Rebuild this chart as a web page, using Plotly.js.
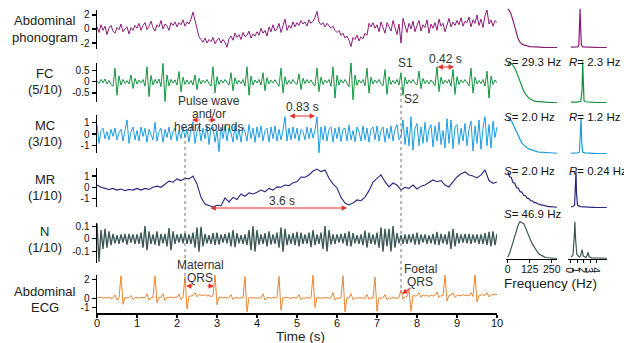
<!DOCTYPE html>
<html><head><meta charset="utf-8">
<script src="https://cdn.plot.ly/plotly-3.0.1.min.js"></script>
<style>html,body{margin:0;padding:0;background:#fff}#chart{width:624px;height:343px}</style>
</head><body><div id="chart"></div>
<script>
// ---------- time-domain data (sampled every 0.05 s, MR every 0.1 s) ----------
const phonogram = [
0.3,-0.5,0.6,-0.2,0.4,-0.8,0.1,0.5,-0.3,-0.6,0.2,-0.1,0.7,-0.4,0.0,0.3,-0.7,0.2,-0.2,0.5,
0.1,0.8,-0.2,0.5,0.9,-0.1,0.4,1.1,0.2,-0.3,0.6,0.3,1.2,0.0,0.7,0.4,-0.2,0.9,0.5,1.0,
0.3,0.9,0.6,1.3,0.4,1.0,0.7,1.4,2.4,1.2,-0.3,-1.1,-1.5,-1.9,-1.3,-2.0,-1.5,-1.8,-1.2,-2.1,
-1.6,-1.3,-2.0,-1.5,-1.9,-2.6,-1.4,-1.0,-1.6,-0.6,-1.2,-0.8,-1.5,-0.5,-1.1,-0.9,-0.3,-1.3,-0.7,-1.0,
-0.4,-0.9,0.1,-0.6,-0.2,-1.0,0.3,-0.4,0.6,-0.3,0.0,0.8,-0.5,0.4,1.4,-0.2,0.5,0.1,1.0,0.3,
0.9,0.5,1.2,0.7,1.0,0.4,1.3,0.8,1.1,1.6,2.5,1.0,0.6,0.9,0.3,0.8,0.5,0.1,0.4,-0.2,
-0.5,-0.2,-0.9,-0.6,-1.3,-1.0,-1.6,-2.5,-1.2,-1.5,-0.9,-1.7,-1.1,-1.4,-0.6,-0.9,0.8,0.3,0.9,0.1,
0.6,-0.4,1.0,0.2,-0.6,0.9,0.4,-0.3,1.2,0.1,-0.8,0.7,-2.0,1.5,0.3,-0.5,0.8,0.0,1.1,-0.4,
0.5,1.2,-0.3,0.6,0.2,1.3,-0.6,0.7,0.1,0.9,-0.2,1.4,0.4,0.8,-0.4,0.6,1.5,0.3,1.0,0.5,
1.2,0.6,1.6,0.4,1.1,0.9,1.7,0.3,1.3,0.8,2.0,0.5,1.4,0.2,1.9,2.7,0.7,1.3,0.4,1.2,0.9];

const fcSignal = [
0.05,-0.08,0.1,-0.05,0.12,-0.1,0.06,-0.12,-0.2,0.6,-0.6,0.25,-0.15,0.1,-0.08,0.05,-0.1,0.3,-0.3,0.15,
-0.1,0.08,-0.05,0.1,-0.2,0.66,-0.66,0.28,-0.15,0.1,-0.07,0.12,-0.22,0.81,-0.88,0.3,-0.18,0.1,-0.06,0.08,
-0.15,0.45,-0.45,0.2,-0.12,0.08,-0.1,0.06,-0.15,0.3,-0.35,0.15,-0.1,0.07,-0.05,0.1,-0.08,-0.2,0.66,-0.5,
0.22,-0.12,0.08,-0.06,0.1,-0.05,-0.15,0.4,-0.4,0.18,-0.1,0.06,-0.08,0.1,-0.2,0.66,-0.6,0.25,-0.14,0.08,
-0.06,0.1,-0.15,0.4,-0.4,0.18,-0.1,0.07,-0.05,0.09,-0.08,-0.2,0.6,-0.5,0.22,-0.12,0.06,-0.09,0.1,-0.05,
-0.12,0.35,-0.35,0.15,-0.08,0.1,-0.06,0.08,-0.1,-0.18,0.6,-0.44,0.2,-0.12,0.07,-0.05,0.1,-0.2,0.66,-0.73,
0.28,-0.15,0.09,-0.06,0.1,-0.08,-0.22,0.88,-0.8,0.3,-0.16,0.08,-0.06,0.1,-0.18,0.6,-0.5,0.2,-0.1,0.07,
-0.05,0.1,-0.08,-0.18,0.54,-0.56,0.22,-0.12,0.06,-0.08,0.1,-0.15,0.4,-0.6,0.2,-0.1,0.08,-0.06,0.1,-0.07,
-0.15,0.47,-0.3,0.15,-0.08,0.06,-0.1,0.08,-0.05,-0.18,0.66,-0.44,0.2,-0.1,0.07,-0.06,0.1,-0.2,0.54,-0.56,
0.22,-0.12,0.08,-0.05,0.1,-0.07,-0.18,0.6,-0.5,0.2,-0.1,0.06,-0.08,0.1,-0.2,0.47,-0.73,0.25,-0.12,0.08,-0.05];

const mcSignal = [
0.8,-0.8,0.3,0.5,-0.4,0.2,-0.5,0.4,-0.2,0.5,-0.5,0.1,0.4,-0.6,0.3,1.2,-0.8,0.2,0.6,-0.5,
0.3,-0.6,0.6,-0.2,0.5,-0.7,0.4,0.0,-0.5,1.0,-0.6,0.2,0.5,-0.7,0.4,-0.3,0.6,-0.5,0.2,0.5,
-0.6,0.3,-0.4,0.6,-0.3,0.4,-0.7,0.5,1.05,-0.8,0.2,0.7,-0.6,0.5,-0.4,0.7,-0.9,0.4,0.6,-0.7,
0.3,-1.5,0.6,-0.4,0.7,-0.6,0.5,0.1,-0.7,0.7,-0.5,0.4,-0.7,0.6,0.2,-0.6,0.8,-0.4,0.5,-0.7,
0.6,-0.3,0.7,-0.6,0.3,0.5,-0.7,0.6,-0.4,0.7,-0.6,0.4,-0.5,0.3,1.48,-0.6,0.5,-0.5,0.6,-0.4,
0.5,-0.6,0.4,0.2,-0.5,0.6,-0.4,0.5,-0.35,0.3,1.48,-1.6,0.6,-0.5,0.7,-0.6,0.4,0.6,-0.7,0.5,
-0.4,0.6,-0.65,0.4,0.5,-0.6,0.77,-0.5,0.3,-0.65,0.6,0.2,-0.6,0.7,-0.5,0.5,-0.7,0.4,0.6,-0.5,
0.7,-0.6,0.3,0.6,-0.7,0.5,-0.4,0.7,-0.6,0.4,0.8,-0.5,-0.2,1.2,-0.9,0.6,-1.0,1.48,-1.37,0.5,
0.9,-1.0,0.6,-0.8,1.0,-0.7,0.4,0.8,-1.1,0.7,-0.6,1.0,-0.9,0.3,-1.2,1.3,-0.8,1.2,-1.25,0.6,
0.8,-0.9,0.5,-0.6,0.9,-1.0,0.4,1.1,-1.45,0.7,-0.8,1.2,-1.3,0.5,1.48,-1.0,0.8,-1.2,1.1,-0.3,0.6];

const mrSignal = [
0.2,0.0,-0.1,-0.2,-0.1,-0.25,-0.15,-0.3,-0.2,-0.25,
-0.1,-0.25,-0.1,-0.2,0.0,0.1,0.0,0.3,0.55,0.45,
0.75,0.6,0.8,0.75,1.0,0.3,-0.9,-1.5,-1.6,-1.76,
-1.6,-1.65,-0.95,-1.3,-0.9,-1.1,-0.6,-0.8,-0.5,-0.6,
-0.45,-0.25,-0.4,-0.1,-0.25,0.03,0.0,0.2,0.15,0.4,
0.5,0.92,0.9,1.1,1.45,1.63,1.4,1.55,0.8,0.3,
-0.06,-0.9,-1.4,-1.58,-1.4,-1.13,-1.2,-0.87,-0.3,0.47,
0.8,1.1,0.5,0.03,0.38,0.2,-0.24,0.0,-0.1,0.2,
-0.15,0.1,0.2,0.45,0.65,0.5,0.6,0.2,0.03,0.5,
0.92,1.2,1.37,1.1,1.0,0.83,1.1,1.55,0.6,0.35,0.47];

const noiseSignal = [
0.12,-0.18,0.07,-0.08,0.08,-0.07,0.06,-0.05,0.04,-0.035,0.03,-0.04,0.035,-0.03,0.04,-0.045,0.04,-0.03,0.035,-0.04,
0.035,-0.04,0.05,-0.07,0.1,-0.09,0.06,-0.04,0.035,-0.045,0.06,-0.055,0.04,-0.035,0.04,-0.06,0.085,-0.09,0.06,-0.04,
0.035,-0.03,0.04,-0.035,0.045,-0.04,0.035,-0.04,0.05,-0.07,0.09,-0.1,0.095,-0.06,0.04,-0.035,0.03,-0.04,0.045,-0.05,
0.05,-0.045,0.035,-0.03,0.04,-0.035,0.05,-0.06,0.07,-0.065,0.045,-0.035,0.03,-0.04,0.035,-0.05,0.07,-0.09,0.1,-0.1,
0.07,-0.045,0.035,-0.04,0.045,-0.06,0.06,-0.045,0.035,-0.04,0.05,-0.07,0.09,-0.1,0.08,-0.05,0.035,-0.04,0.045,-0.05,
0.055,-0.06,0.05,-0.04,0.035,-0.04,0.05,-0.065,0.07,-0.05,0.035,-0.04,0.05,-0.08,0.1,-0.1,0.07,-0.045,0.035,-0.04,
0.035,-0.03,0.04,-0.035,0.045,-0.055,0.06,-0.06,0.045,-0.035,0.03,-0.04,0.035,-0.05,0.065,-0.07,0.05,-0.04,0.035,-0.045,
0.05,-0.07,0.09,-0.1,0.08,-0.06,0.08,-0.1,0.1,-0.07,0.045,-0.035,0.03,-0.04,0.035,-0.04,0.035,-0.03,0.04,-0.045,
0.05,-0.045,0.035,-0.03,0.035,-0.04,0.03,-0.035,0.04,-0.045,0.055,-0.05,0.04,-0.035,0.035,-0.045,0.06,-0.08,0.08,-0.06,
0.045,-0.035,0.035,-0.03,0.04,-0.035,0.04,-0.04,0.035,-0.03,0.035,-0.04,0.035,-0.04,0.045,-0.05,0.055,-0.06,0.06,-0.05,0.04];

const ecgSignal = [
0.1,0.05,0.12,0.0,0.08,0.03,0.1,-0.02,0.06,0.35,-0.2,0.05,2.45,-0.65,0.1,0.02,0.08,0.3,-0.15,0.05,
0.08,0.0,0.1,0.04,0.06,0.5,-0.2,0.05,0.1,2.45,-0.5,0.08,0.12,0.5,-0.25,0.1,0.05,0.15,0.08,0.12,
0.1,0.45,-0.15,0.1,2.35,-1.16,0.2,0.25,0.3,0.6,0.15,0.4,0.35,0.3,0.4,0.25,0.3,0.2,0.25,2.6,
-0.7,0.15,0.1,0.05,0.12,0.02,0.08,0.4,-0.15,0.06,0.1,0.0,0.08,0.05,2.35,-1.5,0.1,0.03,0.08,0.0,
0.06,0.02,0.1,0.5,-0.2,0.05,0.1,0.0,0.07,0.03,0.1,2.4,-1.3,0.08,0.02,0.1,0.05,0.0,0.08,0.04,
0.05,0.4,-0.15,0.05,0.0,0.08,0.02,0.06,2.5,-1.0,0.1,0.03,0.0,0.06,0.02,0.08,0.0,0.05,0.6,-0.2,
0.05,0.0,0.06,2.45,-1.5,0.05,0.02,0.5,-0.15,0.05,0.0,0.07,0.02,0.05,0.0,0.4,-0.1,0.05,0.02,2.3,
-1.4,0.05,0.0,0.06,0.4,-0.15,0.05,0.0,0.08,0.03,0.0,0.1,0.9,-0.1,0.15,0.2,0.9,-1.4,0.3,0.25,
0.3,0.6,0.1,0.35,0.25,0.3,0.2,0.35,0.25,0.3,0.7,0.05,0.3,0.25,2.5,-0.3,0.3,0.35,0.6,0.1,
0.3,0.35,0.25,0.4,0.3,0.35,0.25,0.6,0.2,2.6,-0.4,0.3,0.35,0.4,0.3,0.6,0.15,0.35,0.4,0.45,0.4];

// ---------- spectra (normalised power) ----------
const specFreq = [0,10,20,30,40,50,60,70,80,90,100,110,120,130,140,150,160,170,180,190,200,210,220,230,240,250,260,270,280];
const specPhono = [1.0,0.95,0.85,0.7,0.55,0.35,0.22,0.15,0.1,0.08,0.06,0.05,0.04,0.035,0.03,0.03,0.025,0.02,0.02,0.02,0.015,0.015,0.01,0.01,0.01,0.01,0.01,0.01,0.01];
const specFC = [0.9,1.0,0.97,0.92,0.85,0.75,0.63,0.52,0.4,0.3,0.22,0.16,0.12,0.09,0.06,0.05,0.04,0.035,0.03,0.03,0.02,0.02,0.02,0.02,0.015,0.01,0.01,0.01,0.01];
const specMC = [1.0,0.97,0.92,0.82,0.72,0.6,0.48,0.38,0.3,0.25,0.2,0.17,0.14,0.12,0.1,0.085,0.07,0.06,0.05,0.045,0.04,0.035,0.03,0.03,0.025,0.02,0.02,0.02,0.02];
const specMR = [1.0,0.86,0.84,0.7,0.68,0.56,0.55,0.45,0.44,0.35,0.34,0.27,0.26,0.2,0.2,0.15,0.15,0.11,0.11,0.08,0.08,0.06,0.06,0.04,0.04,0.03,0.03,0.02,0.02];
const specN = [0.05,0.15,0.3,0.45,0.6,0.78,0.92,1.0,0.98,0.95,0.85,0.72,0.6,0.5,0.4,0.32,0.24,0.18,0.13,0.1,0.07,0.05,0.04,0.03,0.02,0.02,0.02,0.02,0.02];

const rateFreqPhono = [0,0.5,1.0,1.2,1.3,1.4,1.5,1.6,1.8,2.5,3.5,4.5,5.5];
const ratePhono     = [0.02,0.02,0.03,0.06,0.4,1.0,0.45,0.08,0.03,0.02,0.015,0.01,0.01];
const rateFreqFC = [0,0.5,1.0,1.5,1.7,1.8,1.9,2.0,2.2,3.0,4.0,5.5];
const rateFC     = [0.02,0.02,0.02,0.04,0.3,1.0,0.4,0.06,0.03,0.02,0.01,0.01];
const rateFreqMC = [0,0.5,1.0,1.3,1.45,1.55,1.65,1.8,2.2,3.0,4.0,5.5];
const rateMC     = [0.02,0.02,0.03,0.05,0.45,1.0,0.35,0.05,0.03,0.02,0.01,0.01];
const rateFreqMR = [0,0.3,0.55,0.7,0.77,0.85,1.0,1.4,2.0,3.0,4.0,5.5];
const rateMR     = [0.03,0.04,0.08,0.5,1.0,0.4,0.08,0.04,0.03,0.02,0.01,0.01];
const rateFreqN = [0,0.3,0.5,0.6,0.7,0.9,1.3,1.5,1.7,1.9,2.3,2.5,2.6,2.8,3.2,4.0,5.5];
const rateN     = [0.05,0.1,0.6,1.0,0.55,0.12,0.05,0.1,0.25,0.08,0.04,0.1,0.18,0.06,0.03,0.02,0.02];

const rowLabels = [['Abdominal','phonogram'],['FC','(5/10)'],['MC','(3/10)'],['MR','(1/10)'],['N','(1/10)'],['Abdominal','ECG']];
const sLabels = ['', 'S= 29.3 Hz', 'S= 2.0 Hz', 'S= 2.0 Hz', 'S= 46.9 Hz'];
const rLabels = ['', 'R= 2.3 Hz', 'R= 1.2 Hz', 'R= 0.24 Hz', ''];

// ---------- layout helpers ----------
const W = 624, H = 343;
const fx = p => p / W;
const fy = p => 1 - p / H;
const FONT = 'Liberation Sans, Arial, Helvetica, sans-serif';
const RED = '#e2312b';

const timeRows = [
  {v: phonogram,   step: 0.05, color: '#8b1b7a', range: [-2.85, 2.7],   tv: [-2, 0, 2],        tt: ['-2','0','2'],        top: 10,  bot: 49,  ly: [21, 38]},
  {v: fcSignal,    step: 0.05, color: '#14933f', range: [-0.9, 0.83],   tv: [-0.5, 0, 0.5],    tt: ['-0.5','0','0.5'],    top: 63,  bot: 102, ly: [74, 90]},
  {v: mcSignal,    step: 0.05, color: '#1e9de0', range: [-1.62, 1.62],  tv: [-1, 0, 1],        tt: ['-1','0','1'],        top: 115, bot: 153, ly: [126, 141]},
  {v: mrSignal,    step: 0.1,  color: '#272780', range: [-1.76, 1.72],  tv: [-1, 0, 1],        tt: ['-1','0','1'],        top: 168, bot: 207, ly: [180, 195]},
  {v: noiseSignal, step: 0.05, color: '#3d5957', range: [-0.19, 0.125], tv: [-0.1, 0, 0.1],    tt: ['-0.1','0','0.1'],    top: 223, bot: 263, ly: [232, 247]},
  {v: ecgSignal,   step: 0.05, color: '#ee8530', range: [-1.6, 2.53],   tv: [-1, 0, 2],        tt: ['-1','0','2'],        top: 275, bot: 313, ly: [291, 307]}
];
const lineWidths = [1, 1, 1, 1.1, 1.4, 1];
const specRows = [
  {s: specPhono, rf: rateFreqPhono, r: ratePhono, top: 8,   bot: 48},
  {s: specFC,    rf: rateFreqFC,    r: rateFC,    top: 61,  bot: 103},
  {s: specMC,    rf: rateFreqMC,    r: rateMC,    top: 117, bot: 154},
  {s: specMR,    rf: rateFreqMR,    r: rateMR,    top: 171, bot: 208},
  {s: specN,     rf: rateFreqN,     r: rateN,     top: 221, bot: 259}
];

const traces = [];
const layout = {
  width: W, height: H, margin: {l: 0, r: 0, t: 0, b: 0},
  paper_bgcolor: '#fff', plot_bgcolor: 'rgba(0,0,0,0)',
  showlegend: false, font: {family: FONT, size: 11, color: '#111'},
  annotations: [], shapes: []
};
const ax = n => (n === 1 ? '' : String(n));
const label = (s, x, y, size, color, xanchor) => ({text: s, x: fx(x), y: fy(y), xref: 'paper', yref: 'paper', showarrow: false,
  xanchor: xanchor || 'center', yanchor: 'middle', font: {size: size, color: color}});

timeRows.forEach((row, i) => {
  const n = i + 1;
  const t = row.v.map((_, k) => +(k * row.step).toFixed(3));
  traces.push({x: t, y: row.v, xaxis: 'x' + ax(n), yaxis: 'y' + ax(n), type: 'scatter', mode: 'lines',
    line: {color: row.color, width: lineWidths[i]}, hoverinfo: 'skip'});
  const isBottom = i === timeRows.length - 1;
  layout['xaxis' + ax(n)] = {domain: [fx(97), fx(497)], range: [0, 10], anchor: 'y' + ax(n),
    visible: isBottom, showgrid: false, zeroline: false, showline: true, linecolor: '#000', linewidth: 1.5,
    ticks: 'outside', ticklen: 3, tickwidth: 1.2, tickcolor: '#000', ticklabelstandoff: -4,
    tickvals: [0,1,2,3,4,5,6,7,8,9,10], tickfont: {size: 11, family: FONT, color: '#111'}};
  layout['yaxis' + ax(n)] = {domain: [fy(row.bot), fy(row.top)], range: row.range, anchor: 'x' + ax(n),
    showgrid: false, zeroline: false, showline: true, linecolor: '#000', linewidth: 1.5,
    ticks: 'outside', ticklen: 4, tickwidth: 1.2, tickcolor: '#000',
    tickvals: row.tv, ticktext: row.tt, tickfont: {size: 10, family: FONT, color: '#111'}};
  layout.annotations.push(label(rowLabels[i][0], 45, row.ly[0], 13, '#222'), label(rowLabels[i][1], 45, row.ly[1], 13, '#222'));
});

specRows.forEach((row, i) => {
  const n1 = 7 + i, n2 = 12 + i;
  const color = timeRows[i].color;
  const isBottom = i === specRows.length - 1;
  traces.push({x: specFreq, y: row.s, xaxis: 'x' + n1, yaxis: 'y' + n1, type: 'scatter', mode: 'lines', line: {color, width: 1.2}, hoverinfo: 'skip'});
  traces.push({x: row.rf, y: row.r, xaxis: 'x' + n2, yaxis: 'y' + n2, type: 'scatter', mode: 'lines', line: {color, width: 1.2}, hoverinfo: 'skip'});
  const xcommon = {visible: isBottom, showgrid: false, zeroline: false, showline: true, linecolor: '#000', linewidth: 1,
    ticks: 'outside', ticklen: 3, tickwidth: 1, tickcolor: '#000', ticklabelstandoff: -3, tickfont: {size: 10.5, family: FONT, color: '#111'}};
  layout['xaxis' + n1] = Object.assign({}, xcommon, {anchor: 'y' + n1, domain: [fx(506), fx(557)], range: [-10, 280], tickvals: [0, 125, 250]});
  layout['xaxis' + n2] = Object.assign({}, xcommon, {anchor: 'y' + n2, domain: [fx(568), fx(607)], range: [-0.46, 5.54], tickvals: [0, 1, 2, 3, 4]});
  const ycommon = {visible: false, range: [0, 1.02], domain: [fy(row.bot), fy(row.top)]};
  layout['yaxis' + n1] = Object.assign({anchor: 'x' + n1}, ycommon);
  layout['yaxis' + n2] = Object.assign({anchor: 'x' + n2}, ycommon);
});

const sY = [0, 62, 117, 171, 214];
for (let i = 1; i < 5; i++) {
  layout.annotations.push(label(sLabels[i].replace(/^S/, '<i>S</i>'), 502, sY[i], 11.5, '#111', 'left'));
  if (rLabels[i]) layout.annotations.push(label(rLabels[i].replace(/^R/, '<i>R</i>'), 567, sY[i], 11.5, '#111', 'left'));
}

const txt = (s, x, y) => label(s, x, y, 12, '#333');
const arrow = (hx, hy, tx, ty, both) => ({text: '', x: fx(hx), y: fy(hy), xref: 'paper', yref: 'paper', axref: 'pixel', ayref: 'pixel',
  ax: tx - hx, ay: ty - hy, showarrow: true, arrowhead: 2, arrowsize: 0.9, arrowwidth: 1.2, arrowcolor: RED, standoff: 0, startstandoff: 0,
  arrowside: both ? 'end+start' : 'end', startarrowhead: 2, startarrowsize: 0.9});

layout.annotations.push(
  txt('S1', 405, 63), txt('S2', 411, 99), txt('0.42 s', 445, 59),
  arrow(454, 67, 436, 67, true),
  txt('Pulse wave', 209, 101), txt('and/or', 209, 114), txt('heart sounds', 209, 127),
  arrow(192, 120, 201, 120, false), arrow(216, 120, 207, 120, false),
  txt('0.83 s', 302, 107), arrow(315, 116, 288, 116, true),
  txt('3.6 s', 282, 201), arrow(347, 208, 209, 208, true),
  txt('Maternal', 200, 265), txt('QRS', 200, 278),
  arrow(186, 286, 194, 286, false), arrow(214, 286, 206, 286, false),
  txt('Foetal', 420, 269), txt('QRS', 420, 282), arrow(402, 294, 412, 287, false),
  label('Time (s)', 300, 336, 13.5, '#222'),
  label('Frequency (Hz)', 550, 283, 13.5, '#222')
);

layout.shapes.push(
  {type: 'line', xref: 'x6', yref: 'paper', x0: 2.2, x1: 2.2, y0: fy(135), y1: fy(283), line: {color: '#777', width: 1, dash: 'dot'}},
  {type: 'line', xref: 'x6', yref: 'paper', x0: 7.6, x1: 7.6, y0: fy(87), y1: fy(292), line: {color: '#777', width: 1, dash: 'dot'}}
);

Plotly.newPlot('chart', traces, layout, {staticPlot: true, displayModeBar: false});
</script>
</body></html>
